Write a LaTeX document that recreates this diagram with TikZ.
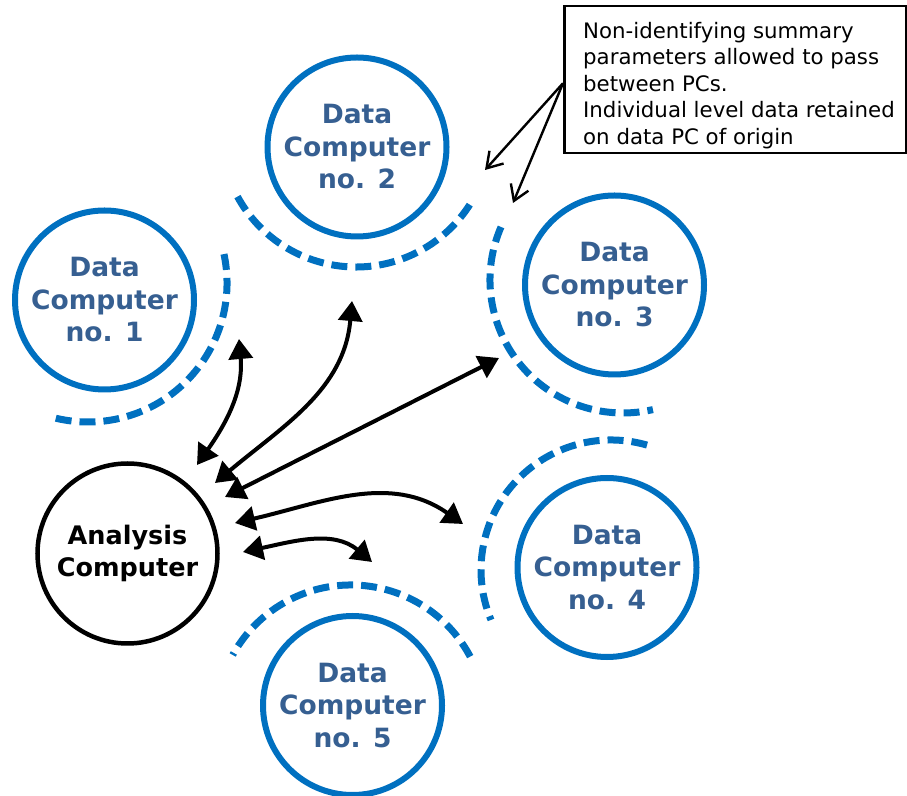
\documentclass[tikz,border=0pt]{standalone}
\usepackage{fontspec}
\setmainfont{DejaVu Sans}
\usetikzlibrary{arrows.meta,calc}

\definecolor{pcblue}{HTML}{0070C0}
\definecolor{pctext}{HTML}{365F91}

\tikzset{
  datapc/.style={circle, draw=pcblue, line width=6pt, minimum size=179pt,
    inner sep=0pt, align=center, text=pctext,
    font=\bfseries\fontsize{26.5}{32.5}\selectfont},
  mainpc/.style={circle, draw=black, line width=4.5pt, minimum size=180pt,
    inner sep=0pt, align=center, text=black,
    font=\bfseries\fontsize{25.5}{32.5}\selectfont},
  fence/.style={draw=pcblue, line width=7pt, dash pattern=on 16pt off 8pt},
  link/.style={line width=4pt,
    {Triangle[length=20pt,width=24pt]}-{Triangle[length=20pt,width=24pt]}},
  notearrow/.style={line width=2.4pt, -{Straight Barb[length=15pt,width=19pt]}},
}

\begin{document}
\begin{tikzpicture}[x=1pt,y=1pt]
\useasboundingbox (0,0) rectangle (907,795);

% computers
\node[datapc] (dc1) at (104.5,495) {Data\\Computer\\no. 1};
\node[datapc] (dc2) at (357,648) {Data\\Computer\\no. 2};
\node[datapc] (dc3) at (614.5,510) {Data\\Computer\\no. 3};
\node[datapc] (dc4) at (607,227.5) {Data\\Computer\\no. 4};
\node[datapc] (dc5) at (352.5,89.5) {Data\\Computer\\no. 5};
\node[mainpc] (ac) at (127.5,241.5) {Analysis\\Computer};

% dashed boundaries around each data computer
\coordinate (f1) at ($(dc1.center)+(-16.5,17)$);
\coordinate (f2) at ($(dc2.center)+(-1,15)$);
\coordinate (f3) at ($(dc3.center)+(8.5,5)$);
\coordinate (f4) at ($(dc4.center)+(4,-2.5)$);
\coordinate (f5) at ($(dc5.center)+(-1.5,-14.5)$);
\draw[fence] (f1) ++(12:139) arc[start angle=12, end angle=-105, radius=139];
\draw[fence] (f2) ++(208.6:135) arc[start angle=208.6, end angle=330.8, radius=135];
\draw[fence] (f3) ++(156.5:133) arc[start angle=156.5, end angle=283, radius=133];
\draw[fence] (f4) ++(73.9:130) arc[start angle=73.9, end angle=202.6, radius=130];
\draw[fence] (f5) ++(28:135) arc[start angle=28, end angle=151.2, radius=135];

% links from the analysis computer
\coordinate (a1s) at (197,330);  \coordinate (a1e) at (239,456);
\coordinate (a2s) at (215,312);  \coordinate (a2e) at (352,494);
\coordinate (a3s) at (225,298);  \coordinate (a3e) at (499,437);
\coordinate (a4s) at (235,272);  \coordinate (a4e) at (463,271);
\coordinate (a5s) at (243,243);  \coordinate (a5e) at (372,233);
\draw[link] (a1s) to[out=55, in=-85] (a1e);
\draw[link] (a2s) to[out=40, in=-95] (a2e);
\draw[link] (a3s) -- (a3e);
\draw[link] (a4s) to[out=13, in=145] (a4e);
\draw[link] (a5s) to[out=12, in=140] (a5e);

% note box
\node[draw=black, line width=2.5pt, anchor=north west, inner sep=0pt,
      minimum width=342pt, minimum height=147pt] (note) at (563,790) {};
\node[anchor=north west, inner sep=0pt, align=left,
      font=\fontsize{21.3}{26.5}\selectfont] (notetext)
  at ($(note.north west)+(20,-17)$)
  {Non-identifying summary\\parameters allowed to pass\\between PCs.\\Individual level data retained\\on data PC of origin};
\coordinate (n1) at (485,625);
\coordinate (n2) at (513,592);
\draw[notearrow] ([yshift=-3.5pt]note.west) -- (n1);
\draw[notearrow] ([yshift=-3.5pt]note.west) -- (n2);
\end{tikzpicture}
\end{document}
